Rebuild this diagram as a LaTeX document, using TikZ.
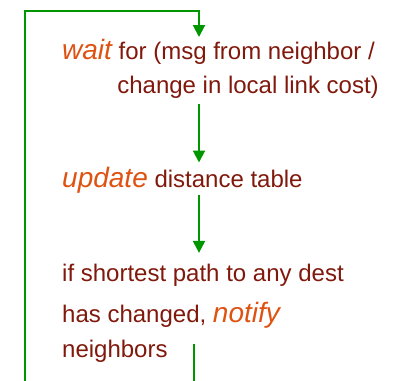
\documentclass[tikz,border=0pt]{standalone}
\usepackage{fontspec}
\setmainfont{Liberation Sans}
\usetikzlibrary{arrows.meta}
\definecolor{flowgreen}{RGB}{0,150,0}
\definecolor{txtred}{RGB}{128,24,12}
\definecolor{actorange}{RGB}{222,82,18}
\newcommand{\act}[1]{{\fontsize{28}{34}\selectfont\itshape\color{actorange}#1}}
\begin{document}
\begin{tikzpicture}[x=1pt, y=-1pt,
  every node/.style={text=txtred, font=\fontsize{24}{29}\selectfont, inner sep=0pt},
  flow/.style={draw=flowgreen, line width=2pt, -{Triangle[length=12pt,width=12pt]}}]
\clip (0, 0) rectangle (401, 380);
\node [anchor=base west] (wait) at (62, 59) {\act{wait} for (msg from neighbor /};
\node [anchor=base east] (waitb) at (379, 93) {change in local link cost)};
\node [anchor=base west] (update) at (62, 187) {\act{update} distance table};
\node [anchor=base west] (check) at (62, 281) {if shortest path to any dest};
\node [anchor=base west] (changed) at (62, 322) {has changed, \act{notify}};
\node [anchor=base west] (neighbors) at (62, 357) {neighbors};
\coordinate (col) at (199, 0);
\coordinate (back) at (194, 0);
\coordinate (loop) at (25, 11);
\draw [flow] ([yshift=-6pt]col |- waitb.south) -- ([yshift=4pt]col |- update.north);
\draw [flow] ([yshift=-2pt]col |- update.south) -- ([yshift=10.5pt]col |- check.north);
\draw [flow] ([yshift=-4.5pt]back |- neighbors.north) -- ++(0, 50) -| (loop)
  -| ([yshift=1.5pt]col |- wait.north);
\end{tikzpicture}
\end{document}
